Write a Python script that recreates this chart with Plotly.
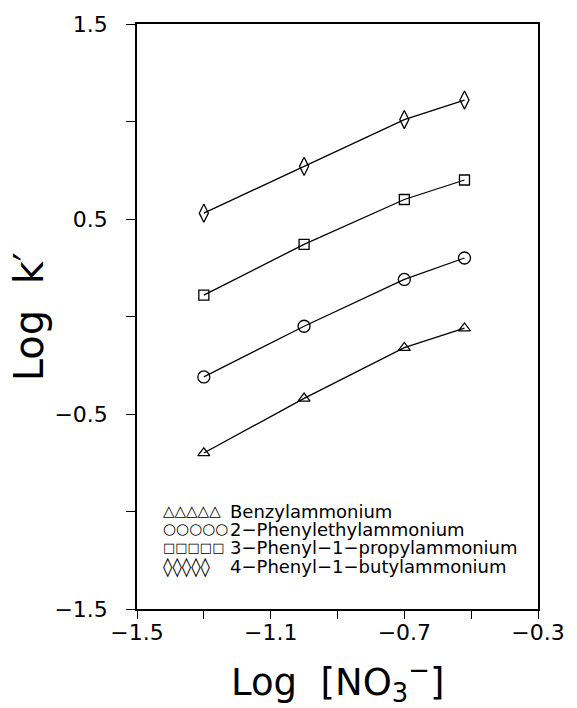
import plotly.graph_objects as go

# log of nitrate concentration (x) and log k' for each ammonium ion
log_no3 = [-1.30, -1.00, -0.70, -0.52]
benzyl = [-0.70, -0.42, -0.16, -0.06]
phenylethyl = [-0.31, -0.05, 0.19, 0.30]
phenylpropyl = [0.11, 0.37, 0.60, 0.70]
phenylbutyl = [0.53, 0.77, 1.01, 1.11]

series_names = [
    "Benzylammonium",
    "2\u2212Phenylethylammonium",
    "3\u2212Phenyl\u22121\u2212propylammonium",
    "4\u2212Phenyl\u22121\u2212butylammonium",
]
series_values = [benzyl, phenylethyl, phenylpropyl, phenylbutyl]
marker_symbols = ["triangle-up-open", "circle-open", "square-open", "diamond-tall-open"]
marker_sizes = [10.5, 12, 10, 13]
legend_glyphs = ["\u25b3" * 5, "\u25cb" * 5, "\u25a1" * 5, "\u25ca" * 5]
legend_glyph_sizes = [15, 15, 13, 19]

x_tickvals = [-1.5, -1.3, -1.1, -0.9, -0.7, -0.5, -0.3]
x_ticktext = ["\u22121.5", "", "\u22121.1", "", "\u22120.7", "", "\u22120.3"]
y_tickvals = [-1.5, -1.0, -0.5, 0.0, 0.5, 1.0, 1.5]
y_ticktext = ["\u22121.5", "", "\u22120.5", "", "0.5", "", "1.5"]

FONT = "DejaVu Sans"

fig = go.Figure()
for name, vals, sym, size in zip(series_names, series_values, marker_symbols, marker_sizes):
    fig.add_trace(go.Scatter(
        x=log_no3, y=vals, name=name, mode="lines+markers",
        line=dict(color="black", width=1.3),
        marker=dict(symbol=sym, size=size, color="black", line=dict(color="black", width=1.3)),
        showlegend=False,
    ))

axis_common = dict(
    showgrid=False, zeroline=False, showline=True, linecolor="black", linewidth=1.5,
    mirror=True, ticks="outside", tickcolor="black", tickwidth=1.3,
    tickfont=dict(family=FONT, size=22, color="black"),
)
fig.update_xaxes(range=[-1.5, -0.3], tickmode="array", tickvals=x_tickvals,
                 ticktext=x_ticktext, ticklen=8, ticklabelstandoff=-5, **axis_common)
fig.update_yaxes(range=[-1.5, 1.5], tickmode="array", tickvals=y_tickvals,
                 ticktext=y_ticktext, ticklen=9, ticklabelstandoff=14, **axis_common)

annotations = [
    dict(text="Log  [NO<sub>3</sub><sup>\u2212</sup>]", xref="paper", yref="paper",
         x=0.5, y=-0.124, xanchor="center", yanchor="middle", showarrow=False,
         font=dict(family=FONT, size=37, color="black")),
    dict(text="Log  k\u2032", xref="paper", yref="paper", textangle=-90,
         x=-0.27, y=0.5, xanchor="center", yanchor="middle", showarrow=False,
         font=dict(family=FONT, size=40, color="black")),
]
legend_rows_y = [0.167, 0.1365, 0.1058, 0.0734]
for glyphs, gsize, name, yy in zip(legend_glyphs, legend_glyph_sizes, series_names, legend_rows_y):
    annotations.append(dict(text=glyphs, xref="paper", yref="paper", x=0.06, y=yy,
                            xanchor="left", yanchor="middle", showarrow=False,
                            font=dict(family=FONT, size=gsize, color="black")))
    annotations.append(dict(text=name, xref="paper", yref="paper", x=0.228, y=yy,
                            xanchor="left", yanchor="middle", showarrow=False,
                            font=dict(family=FONT, size=18, color="black")))

fig.update_layout(
    width=577, height=708,
    margin=dict(l=137, r=33, t=23, b=99),
    paper_bgcolor="white", plot_bgcolor="white",
    annotations=annotations,
)

fig.write_html("out.html")
